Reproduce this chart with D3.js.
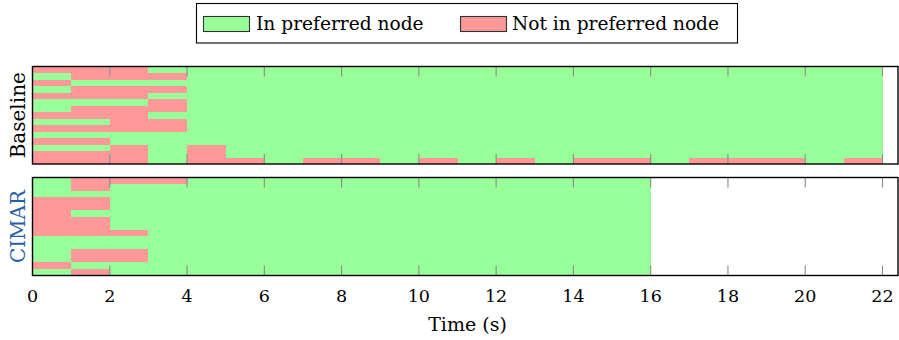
<!DOCTYPE html>
<html>
<head>
<meta charset="utf-8">
<script src="https://cdn.jsdelivr.net/npm/d3@7"></script>
<style>
  html, body { margin: 0; padding: 0; background: #fff; }
  svg { display: block; }
  text { font-family: "DejaVu Serif", serif; fill: #000; }
</style>
</head>
<body>
<svg id="chart" width="899" height="340"></svg>
<script>
// Per-task placement, one character per second: 1 = not in preferred node, 0 = in preferred node
const baselineRows = [
  "1110000000000000000000",
  "0111000000000000000000",
  "1000000000000000000000",
  "0111000000000000000000",
  "1110000000000000000000",
  "0001000000000000000000",
  "0111000000000000000000",
  "1110000000000000000000",
  "0011000000000000000000",
  "1111000000000000000000",
  "0000000000000000000000",
  "1100000000000000000000",
  "0010100000000000000000",
  "1110100000000000000000",
  "1110110110101011011101"
];
const cimarRows = [
  "0111000000000000",
  "0100000000000000",
  "0000000000000000",
  "1100000000000000",
  "1100000000000000",
  "1000000000000000",
  "1100000000000000",
  "1100000000000000",
  "1110000000000000",
  "0000000000000000",
  "0000000000000000",
  "0110000000000000",
  "0110000000000000",
  "1000000000000000",
  "0100000000000000"
];
const panelNames = ["Baseline", "CIMAR"];
const legendLabels = ["In preferred node", "Not in preferred node"];
const xTickValues = [0, 2, 4, 6, 8, 10, 12, 14, 16, 18, 20, 22];
const xDomain = [0, 22];
const xTitle = "Time (s)";

const colors = { in: "#99ff99", out: "#ff9999" };
const nameColors = ["#000000", "#2a5fa5"];

const svg = d3.select("#chart");
const left = 32.5, right = 898, plotRight = 882.5;
const x = d3.scaleLinear().domain(xDomain).range([left, plotRight]);

const panels = [
  { name: panelNames[0], rows: baselineRows, top: 66.5, bottom: 164, color: nameColors[0] },
  { name: panelNames[1], rows: cimarRows, top: 177.5, bottom: 275.5, color: nameColors[1] }
];

panels.forEach(p => {
  const y = d3.scaleLinear().domain([0, p.rows.length]).range([p.top, p.bottom]);
  const cells = [];
  p.rows.forEach((r, i) => {
    r.split("").forEach((c, t) => cells.push({ row: i, t: t, out: c === "1" }));
  });
  const g = svg.append("g");
  g.selectAll("rect.cell").data(cells).join("rect")
    .attr("class", "cell")
    .attr("x", d => x(d.t))
    .attr("width", d => x(d.t + 1) - x(d.t))
    .attr("y", d => y(d.row))
    .attr("height", d => y(d.row + 1) - y(d.row))
    .attr("fill", d => d.out ? colors.out : colors.in)
    .attr("shape-rendering", "crispEdges");

  // tick marks along top and bottom edges
  const tickLen = 10;
  g.selectAll("line.tb").data(xTickValues).join("line")
    .attr("class", "tb")
    .attr("x1", d => x(d)).attr("x2", d => x(d))
    .attr("y1", p.bottom).attr("y2", p.bottom - tickLen)
    .attr("stroke", "#8a8a8a").attr("stroke-width", 1.1);
  g.selectAll("line.tt").data(xTickValues).join("line")
    .attr("class", "tt")
    .attr("x1", d => x(d)).attr("x2", d => x(d))
    .attr("y1", p.top).attr("y2", p.top + tickLen)
    .attr("stroke", "#8a8a8a").attr("stroke-width", 1.1);

  // frame
  g.append("rect")
    .attr("x", left).attr("y", p.top)
    .attr("width", right - left).attr("height", p.bottom - p.top)
    .attr("fill", "none").attr("stroke", "#000").attr("stroke-width", 1.4);

  // panel name
  svg.append("text")
    .attr("transform", `translate(25,${(p.top + p.bottom) / 2}) rotate(-90)`)
    .attr("text-anchor", "middle")
    .attr("font-size", 20)
    .style("fill", p.color)
    .text(p.name);
});

// x tick labels
svg.append("g").selectAll("text").data(xTickValues).join("text")
  .attr("x", d => x(d))
  .attr("y", 302)
  .attr("text-anchor", "middle")
  .attr("font-size", 17.5)
  .text(d => d);

svg.append("text")
  .attr("x", (left + plotRight) / 2 + 10)
  .attr("y", 331)
  .attr("text-anchor", "middle")
  .attr("font-size", 19)
  .text(xTitle);

// legend
const lg = svg.append("g");
lg.append("rect")
  .attr("x", 196.5).attr("y", 3.5).attr("width", 541).attr("height", 39.5)
  .attr("fill", "#fff").attr("stroke", "#000").attr("stroke-width", 1.1);
const legendItems = [
  { label: legendLabels[0], fill: colors.in, sx: 203.5, tx: 256 },
  { label: legendLabels[1], fill: colors.out, sx: 460.5, tx: 512 }
];
legendItems.forEach(it => {
  lg.append("rect")
    .attr("x", it.sx).attr("y", 16.5).attr("width", 46).attr("height", 15)
    .attr("fill", it.fill).attr("stroke", "#333").attr("stroke-width", 1.1);
  lg.append("text")
    .attr("x", it.tx).attr("y", 29.5)
    .attr("font-size", 18.6)
    .text(it.label);
});
</script>
</body>
</html>
